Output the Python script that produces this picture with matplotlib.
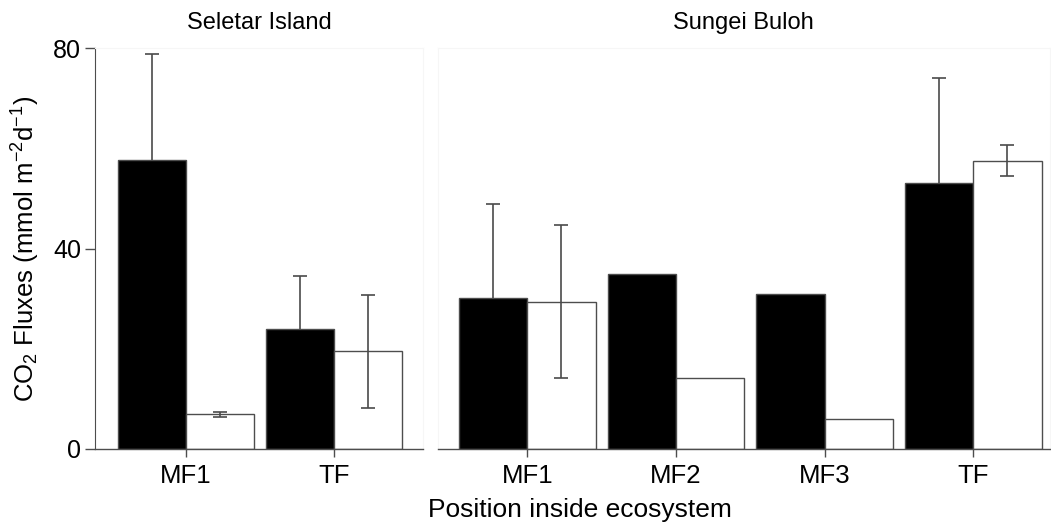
import numpy as np
import matplotlib
matplotlib.use("Agg")
import matplotlib.pyplot as plt

# ── Data ───────────────────────────────────────────────────────────────────────
seletar_cats = ["MF1", "TF"]
seletar_black = [57.7, 23.9]
seletar_black_err = [21.2, 10.6]
seletar_white = [6.9, 19.5]
seletar_white_err = [0.45, 11.3]

buloh_cats = ["MF1", "MF2", "MF3", "TF"]
buloh_black = [30.2, 35.0, 30.9, 53.1]
buloh_black_err = [18.6, np.nan, np.nan, 21.0]
buloh_white = [29.4, 14.2, 6.0, 57.5]
buloh_white_err = [15.2, np.nan, np.nan, 3.1]

plt.rcParams["font.family"] = ["Liberation Sans", "DejaVu Sans"]
plt.rcParams["mathtext.default"] = "regular"

W = 0.46
EDGE = "#4d4d4d"
ERRC = "#4a4a4a"
FAINT = "#f6f6f6"


def draw_panel(ax, cats, black, black_err, white, white_err, title):
    x = np.arange(len(cats))
    black = np.asarray(black, float)
    white = np.asarray(white, float)
    be = np.asarray(black_err, float)
    we = np.asarray(white_err, float)

    ax.bar(x - W / 2, black, W, color="black", edgecolor=EDGE, linewidth=1.0, zorder=2)
    ax.bar(x + W / 2, white, W, color="white", edgecolor=EDGE, linewidth=1.0, zorder=2)

    # black-bar error bars sit behind the bar, so only the upper half shows
    m = ~np.isnan(be)
    if m.any():
        ax.errorbar(x[m] - W / 2, black[m], yerr=be[m], fmt="none", ecolor=ERRC,
                    elinewidth=1.2, capsize=5, capthick=1.2, zorder=1)
    m = ~np.isnan(we)
    if m.any():
        ax.errorbar(x[m] + W / 2, white[m], yerr=we[m], fmt="none", ecolor=ERRC,
                    elinewidth=1.2, capsize=5, capthick=1.2, zorder=3)

    ax.set_ylim(0, 80)
    ax.set_xticks(x)
    ax.set_xticklabels(cats)
    ax.tick_params(axis="x", direction="out", length=6, width=1.0, color=EDGE,
                   labelsize=18.5, pad=5)
    ax.set_title(title, fontsize=17, pad=14)
    ax.spines["bottom"].set_color(EDGE)
    ax.spines["bottom"].set_linewidth(1.0)
    for s in ("top", "right"):
        ax.spines[s].set_color(FAINT)
        ax.spines[s].set_linewidth(0.8)


fig = plt.figure(figsize=(10.51, 5.22), dpi=100)
ax1 = fig.add_axes([95 / 1051, 73 / 522, 328 / 1051, 401 / 522])
ax2 = fig.add_axes([437.7 / 1051, 73 / 522, 612.3 / 1051, 401 / 522])

draw_panel(ax1, seletar_cats, seletar_black, seletar_black_err,
           seletar_white, seletar_white_err, "Seletar Island")
draw_panel(ax2, buloh_cats, buloh_black, buloh_black_err,
           buloh_white, buloh_white_err, "Sungei Buloh")

ax1.set_xlim(-0.615, 1.60)
ax2.set_xlim(-0.603, 3.517)

ax1.set_yticks([0, 40, 80])
ax1.tick_params(axis="y", direction="out", length=7, width=1.0, color=EDGE,
                labelsize=18, pad=3)
ax1.spines["left"].set_color(EDGE)
ax1.set_ylabel("CO$_2$ Fluxes (mmol m$^{-2}$d$^{-1}$)", fontsize=18.5, labelpad=8)

ax2.set_yticks([])
ax2.spines["left"].set_color(FAINT)

fig.text(580 / 1051, 1 - 510 / 522, "Position inside ecosystem", fontsize=19,
         ha="center", va="center")

fig.savefig("out.png", dpi=100, facecolor="white")
